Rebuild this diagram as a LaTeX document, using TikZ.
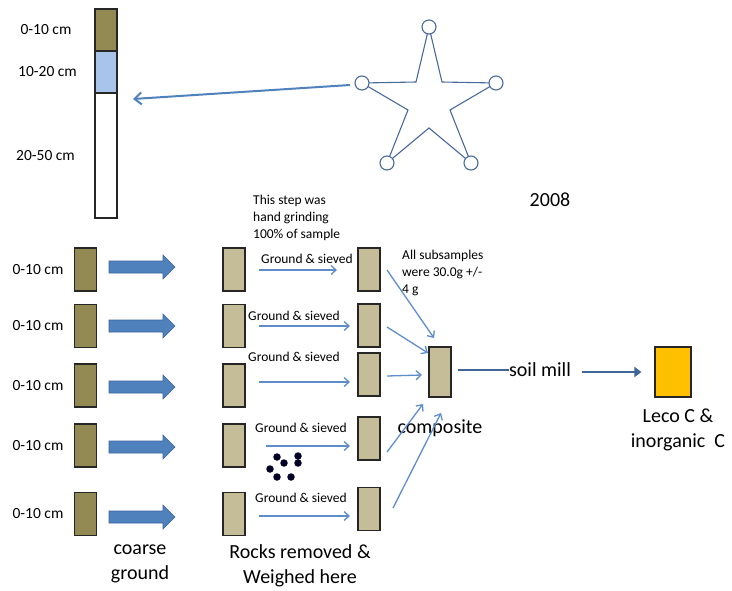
\documentclass[tikz,border=0pt]{standalone}
\usepackage{fontspec}
\setmainfont{Carlito}
\usetikzlibrary{arrows.meta}
\definecolor{soilbrown}{HTML}{938953}
\definecolor{soiltan}{HTML}{C4BD97}
\definecolor{bandblue}{HTML}{A9C4EA}
\definecolor{fatblue}{HTML}{4F81BD}
\definecolor{fatedge}{HTML}{3A64A0}
\definecolor{thinblue}{HTML}{5F8DCA}
\definecolor{starblue}{HTML}{4A6A9C}
\definecolor{millblue}{HTML}{3F6697}
\definecolor{lecoyellow}{HTML}{FFC000}
\tikzset{
  box/.style={draw=black!85, line width=1.1pt, minimum width=22pt, minimum height=43pt, inner sep=0pt},
  brownbox/.style={box, fill=soilbrown},
  tanbox/.style={box, fill=soiltan},
  fatarrow/.style={fill=fatblue, draw=fatedge, line width=0.6pt},
  thinarrow/.style={draw=thinblue, line width=1.3pt, -{Straight Barb[length=5pt,width=9pt,line width=1.3pt]}},
  millline/.style={draw=millblue, line width=2.8pt},
  lab/.style={inner sep=0pt, font=\fontsize{15.5}{17}\selectfont},
  small/.style={inner sep=0pt, font=\fontsize{13.5}{17}\selectfont, align=left},
  big/.style={inner sep=0pt, font=\fontsize{20}{25}\selectfont, align=center},
  starcirc/.style={circle, draw=starblue, fill=white, line width=1.1pt, minimum size=14pt, inner sep=0pt},
  rock/.style={circle, fill=black!85!blue, minimum size=7.5pt, inner sep=0pt}
}
\begin{document}
\begin{tikzpicture}[x=1pt,y=-1pt]
\useasboundingbox (0,0) rectangle (732,590);
% core
\node[box, fill=soilbrown, minimum height=42pt] (core1) at (106,30) {};
\node[box, fill=bandblue, minimum height=42pt] (core2) at (106,72) {};
\node[box, fill=white, minimum height=125pt] (core3) at (106,155.5) {};
\node[lab] (cl1) at (46,30) {0-10 cm};
\node[lab] (cl2) at (47.5,72) {10-20 cm};
\node[lab] (cl3) at (45.5,156) {20-50 cm};
% star
\draw[starblue, line width=1.1pt] (429,27) -- (442,82) -- (496,83) -- (450,110) -- (471,163) -- (429,128) -- (387,163) -- (408,110) -- (362,83) -- (416,82) -- cycle;
\node[starcirc] (sc1) at (429,27) {};
\node[starcirc] (sc2) at (496,83) {};
\node[starcirc] (sc3) at (471,163) {};
\node[starcirc] (sc4) at (387,163) {};
\node[starcirc] (sc5) at (362,83) {};
\coordinate (coretip) at (133,99);
\draw[draw=fatblue, line width=2pt, -{Straight Barb[length=7pt,width=12pt,line width=2pt]}] ([xshift=-12pt,yshift=-2pt]sc5.center) -- (coretip);
\node[big] (yr) at (550,200) {2008};
% row labels and boxes
\foreach \i/\y/\ya in {1/269.5/267, 2/326/326, 3/385.5/387, 4/445.5/447, 5/514/517} {
  \node[lab] (rl\i) at (38,\y) {0-10 cm};
  \node[brownbox] (b\i) at (85.5,\y) {};
  \draw[fatarrow, shift={(109,\ya)}] (0,-6) -- (54,-6) -- (54,-12) -- (66,0) -- (54,12) -- (54,6) -- (0,6) -- cycle;
  \node[tanbox] (t\i) at (234,\y) {};
}
\node[big] (coarse) at (140,564) {coarse\\ground};
% third column
\node[tanbox] (w1) at (369,269.5) {};
\node[tanbox] (w2) at (369,325.5) {};
\node[tanbox] (w3) at (369,374.5) {};
\node[tanbox] (w4) at (369,438.5) {};
\node[tanbox] (w5) at (369,509) {};
% thin horizontal arrows
\coordinate (hs1) at (259,270); \coordinate (he1) at (337,270);
\coordinate (hs2) at (259,326); \coordinate (he2) at (350,326);
\coordinate (hs3) at (259,382); \coordinate (he3) at (350,382);
\coordinate (hs4) at (266,446); \coordinate (he4) at (350,446);
\coordinate (hs5) at (259,516); \coordinate (he5) at (350,516);
\foreach \i in {1,...,5} { \draw[thinarrow] (hs\i) -- (he\i); }
\node[small] (g1) at (307,259) {Ground \& sieved};
\node[small] (g2) at (294,316) {Ground \& sieved};
\node[small] (g3) at (294,357) {Ground \& sieved};
\node[small] (g4) at (301,428) {Ground \& sieved};
\node[small] (g5) at (301,498) {Ground \& sieved};
\node[small, anchor=north west] (note1) at (253,195) {This step was\\hand grinding\\100\% of sample};
\node[small, anchor=north west] (note2) at (402,250) {All subsamples\\were 30.0g +/-\\4 g};
% rocks
\foreach \x/\y [count=\k] in {277/457, 284/463, 298/456, 298/463, 270/469, 277/477, 291/477} {
  \node[rock] (r\k) at (\x,\y) {};
}
\node[big] (rocks) at (300,566) {Rocks removed \&\\Weighed here};
% composite
\node[tanbox, minimum height=50pt] (comp) at (440,372) {};
\node[big] (comptxt) at (440,428) {composite};
\coordinate (ds1) at (387,270); \coordinate (de1) at (434,338);
\coordinate (ds2) at (387,327); \coordinate (de2) at (428,353);
\coordinate (ds3) at (387,376); \coordinate (de3) at (422,375);
\coordinate (ds4) at (387,452); \coordinate (de4) at (423,404);
\coordinate (ds5) at (393,508); \coordinate (de5) at (441,413);
\foreach \i in {1,...,5} { \draw[thinarrow] (ds\i) -- (de\i); }
% soil mill
\node[big] (mill) at (540,370) {soil mill};
\node[box, fill=lecoyellow, minimum width=36pt, minimum height=50pt] (leco) at (673,372) {};
\draw[millline] ([xshift=6pt]comp.east |- mill.west) -- (mill.west);
\draw[millline, -{Triangle[length=7pt,width=10pt]}] ([xshift=11pt,yshift=-2pt]mill.east) -- ([xshift=-13pt]leco.west);
\node[big] (lecotxt) at (678,430) {Leco C \&\\inorganic\ \ C};
\end{tikzpicture}
\end{document}
